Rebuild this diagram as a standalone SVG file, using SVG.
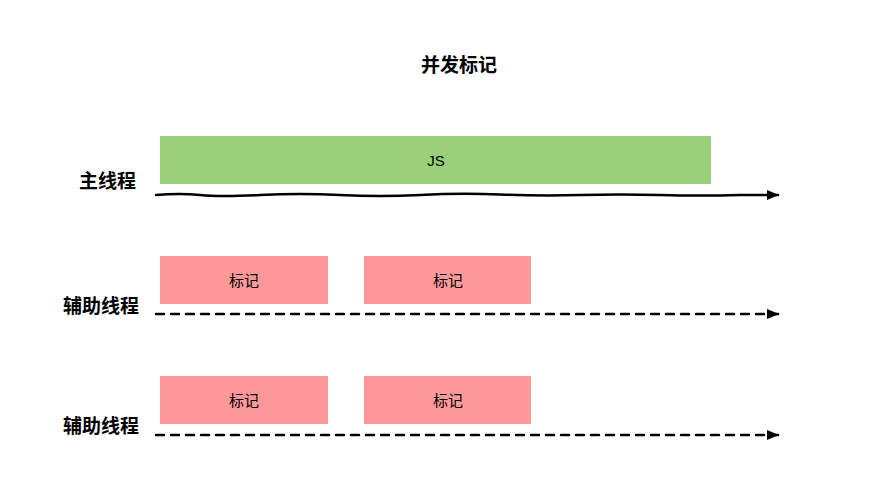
<svg xmlns="http://www.w3.org/2000/svg" width="883" height="494" viewBox="0 0 883 494">
<style>
.t{font-family:"Liberation Sans","Noto Sans CJK SC",sans-serif;fill:#000}
.lbl{font-size:19px;font-weight:bold;text-anchor:end}
.bx{font-size:15px;text-anchor:middle;dominant-baseline:central}
.g{fill:#9ad07a}
.p{fill:#ff9999}
.ln{fill:none;stroke:#000;stroke-width:2.5;stroke-linecap:round}
.ds{stroke-dasharray:8 7}
</style>
<defs>
<marker id="ah" markerWidth="12" markerHeight="10" refX="11" refY="5" orient="auto" markerUnits="userSpaceOnUse">
<path d="M0,0 L12,5 L0,10 Z" fill="#000"/>
</marker>
</defs>
<text class="t" x="459" y="72" style="font-size:19px;font-weight:bold;text-anchor:middle">并发标记</text>
<g id="label-main"><text class="t lbl" x="136" y="188">主线程</text></g>
<g id="label-aux1"><text class="t lbl" x="139" y="313">辅助线程</text></g>
<g id="label-aux2"><text class="t lbl" x="139" y="433">辅助线程</text></g>
<g id="js"><rect class="g" x="160" y="136" width="551" height="48"/><text class="t bx" x="436" y="160">JS</text></g>
<g id="mark1"><rect class="p" x="160" y="256" width="168" height="48"/><text class="t bx" x="244" y="280">标记</text></g>
<g id="mark2"><rect class="p" x="364" y="256" width="167" height="48"/><text class="t bx" x="448" y="280">标记</text></g>
<g id="mark3"><rect class="p" x="160" y="376" width="168" height="48"/><text class="t bx" x="244" y="400">标记</text></g>
<g id="mark4"><rect class="p" x="364" y="376" width="167" height="48"/><text class="t bx" x="448" y="400">标记</text></g>
<g id="connectors">
<path class="ln" d="M156,195 Q180,193 200,195 T260,195 T340,195 T420,195 T500,194.5 T580,195 T660,195 T740,195 L778,195" marker-end="url(#ah)"/>
<path class="ln ds" d="M156,314 L778,314" marker-end="url(#ah)"/>
<path class="ln ds" d="M156,435 L778,435" marker-end="url(#ah)"/>
</g>
</svg>
